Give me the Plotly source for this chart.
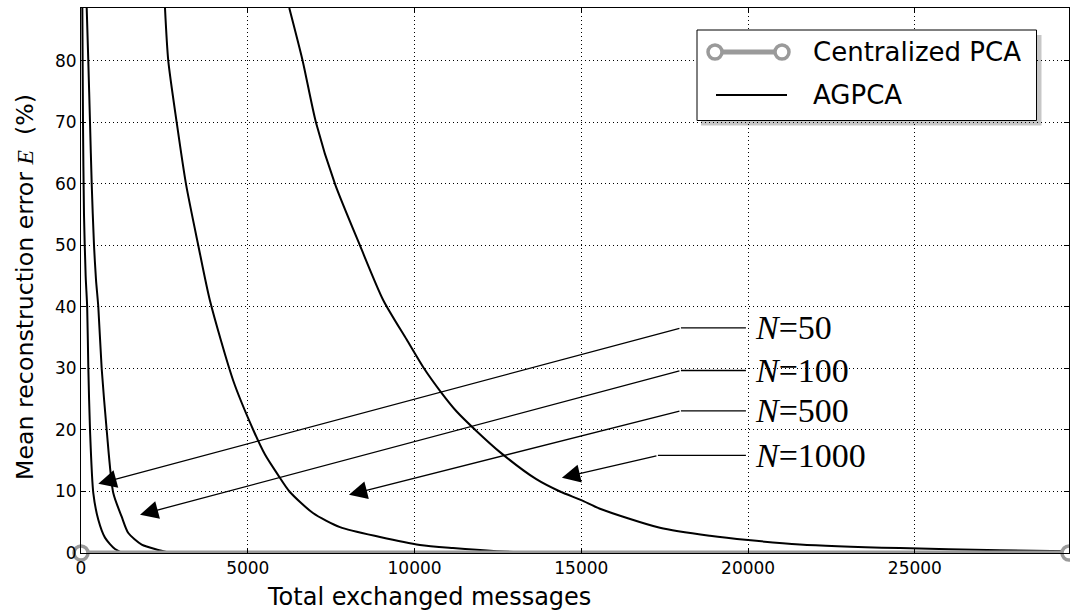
import plotly.graph_objects as go

# ---------------- data ----------------
X_MAX = 29620

n50_x = [40, 60, 90, 140, 185, 220, 270, 369, 519, 719, 1019, 1300, X_MAX]
n50_y = [88.6, 70, 55, 45, 40, 30, 20, 9.75, 5.4, 2.5, 0.65, 0, 0]

n100_x = [171, 219, 270, 321, 390, 450, 519, 620, 770, 968, 1220, 1418, 1820, 2317, 2700, X_MAX]
n100_y = [88.6, 80, 70, 60, 50, 44.4, 40, 30, 20, 9.75, 5.9, 3.25, 1.35, 0.5, 0, 0]

n500_x = [2518, 2617, 2869, 3147, 3516, 3867, 4565, 5165, 5516, 5905, 6250, 6954, 7764,
          8963, 10162, 11151, 12470, 13459, 15000, X_MAX]
n500_y = [88.6, 80, 70, 60, 50, 41, 28, 20, 16, 12.7, 10, 6.5, 4.2,
          2.6, 1.3, 0.8, 0.3, 0.1, 0, 0]

n1000_x = [6244, 6646, 7044, 7614, 8363, 9062, 9763, 10261, 10813, 11262, 11862, 12560,
           13650, 14360, 15000, 15558, 17356, 18855, 20000, 21553, 24550, 27548, X_MAX]
n1000_y = [88.6, 80, 70, 60, 50, 41.1, 34.7, 30.2, 26.0, 23.0, 19.8, 16.4,
           12.0, 10.0, 8.6, 7.2, 4.1, 2.8, 2.1, 1.4, 0.8, 0.45, 0.3]

central_x = [0, X_MAX]
central_y = [0, 0]

labels = ["<i>N</i>=50", "<i>N</i>=100", "<i>N</i>=500", "<i>N</i>=1000"]
# arrow tip, bend point (data coords)
tip_x = [519, 1769, 8034, 14418]
tip_y = [11.26, 6.22, 9.47, 12.24]
bend_x = [17986, 17986, 17986, 17296]
bend_y = [36.6, 29.67, 23.12, 15.86]
text_line_end_x = 19934
text_x = 20150

x_ticks = [0, 5000, 10000, 15000, 20000, 25000]
y_ticks = [0, 10, 20, 30, 40, 50, 60, 70, 80]

# ---------------- layout geometry (page pixels) ----------------
W, H = 1070, 616
L, R, T, B = 81, 1069, 8, 553      # plot area in page pixels


def px_x(px):
    return (px - L) / (R - L)


def px_y(py):
    return (B - py) / (B - T)


fig = go.Figure()

for xs, ys in [(n50_x, n50_y), (n100_x, n100_y), (n500_x, n500_y), (n1000_x, n1000_y)]:
    fig.add_trace(go.Scatter(x=xs, y=ys, mode="lines",
                             line=dict(color="black", width=2, shape="spline", smoothing=0.7),
                             showlegend=False, hoverinfo="skip"))

fig.add_trace(go.Scatter(x=central_x, y=central_y, mode="lines+markers",
                         line=dict(color="#9a9a9a", width=5),
                         marker=dict(symbol="circle", size=14, color="white",
                                     line=dict(color="#9a9a9a", width=3.5)),
                         cliponaxis=False, showlegend=False, hoverinfo="skip"))

shapes = []
annotations = []

serif = "Liberation Serif"
for lab, tx, ty, bx, by in zip(labels, tip_x, tip_y, bend_x, bend_y):
    shapes.append(dict(type="line", xref="x", yref="y", x0=bx, y0=by,
                       x1=text_line_end_x, y1=by,
                       line=dict(color="black", width=1.3)))
    annotations.append(dict(x=tx, y=ty, ax=bx, ay=by, xref="x", yref="y",
                            axref="x", ayref="y", text="", showarrow=True,
                            arrowhead=2, arrowsize=2.8, arrowwidth=1.3,
                            arrowcolor="black", standoff=0))
    annotations.append(dict(x=text_x, y=by, xref="x", yref="y", text=lab,
                            showarrow=False, xanchor="left", yanchor="middle",
                            font=dict(family=serif, size=34, color="black")))

# ---- manual legend ----
lx0, lx1, ly0, ly1 = 697, 1036.5, 30, 120.5
shapes.append(dict(type="rect", xref="paper", yref="paper",
                   x0=px_x(lx0 + 4), x1=px_x(lx1 + 5), y0=px_y(ly0 + 5), y1=px_y(ly1 + 5),
                   fillcolor="rgba(0,0,0,0.22)", line=dict(width=0), layer="above"))
shapes.append(dict(type="rect", xref="paper", yref="paper",
                   x0=px_x(lx0), x1=px_x(lx1), y0=px_y(ly0), y1=px_y(ly1),
                   fillcolor="white", line=dict(color="black", width=1), layer="above"))
row1, row2 = 52, 95
shapes.append(dict(type="line", xref="paper", yref="paper",
                   x0=px_x(715), x1=px_x(782), y0=px_y(row1), y1=px_y(row1),
                   line=dict(color="#9a9a9a", width=5), layer="above"))
for cx in (715, 782):
    shapes.append(dict(type="circle", xref="paper", yref="paper",
                       xsizemode="pixel", ysizemode="pixel",
                       xanchor=px_x(cx), yanchor=px_y(row1),
                       x0=-7, x1=7, y0=-7, y1=7,
                       fillcolor="white", line=dict(color="#9a9a9a", width=3.5),
                       layer="above"))
shapes.append(dict(type="line", xref="paper", yref="paper",
                   x0=px_x(716), x1=px_x(787), y0=px_y(row2), y1=px_y(row2),
                   line=dict(color="black", width=2), layer="above"))
for txt, ry in [("Centralized PCA", row1), ("AGPCA", row2)]:
    annotations.append(dict(x=px_x(811), y=px_y(ry), xref="paper", yref="paper",
                            text=txt, showarrow=False, xanchor="left",
                            yanchor="middle",
                            font=dict(family="DejaVu Sans", size=26, color="black")))

# ---- axis titles ----
annotations.append(dict(x=px_x(429), y=px_y(597), xref="paper", yref="paper",
                        text="Total exchanged messages", showarrow=False,
                        xanchor="center", yanchor="middle",
                        font=dict(family="DejaVu Sans", size=24, color="black")))
annotations.append(dict(x=px_x(25), y=px_y(287), xref="paper", yref="paper",
                        text="Mean reconstruction error "
                             "<span style='font-family:Liberation Serif'><i>E</i></span>"
                             "  (%)",
                        textangle=-90, showarrow=False,
                        xanchor="center", yanchor="middle",
                        font=dict(family="DejaVu Sans", size=23.7, color="black")))

axis_common = dict(showline=True, linecolor="black", linewidth=1, mirror="allticks",
                   ticks="inside", ticklen=5, tickcolor="black",
                   showgrid=True, gridcolor="black", gridwidth=1, griddash="1px,3px",
                   zeroline=False, automargin=False,
                   tickfont=dict(family="DejaVu Sans", size=17, color="black"))

fig.update_layout(
    width=W, height=H,
    margin=dict(l=L, r=W - R, t=T, b=H - B),
    plot_bgcolor="white", paper_bgcolor="white",
    xaxis=dict(range=[0, X_MAX], tickvals=x_ticks, tickformat="d", **axis_common),
    yaxis=dict(range=[0, 88.6], tickvals=y_ticks, tickformat="d", **axis_common),
    shapes=shapes, annotations=annotations,
    showlegend=False,
)

fig.write_html("out.html",
               config={"displayModeBar": False},
               post_script="document.body.style.margin='0';"
                           "document.body.style.overflow='hidden';")
